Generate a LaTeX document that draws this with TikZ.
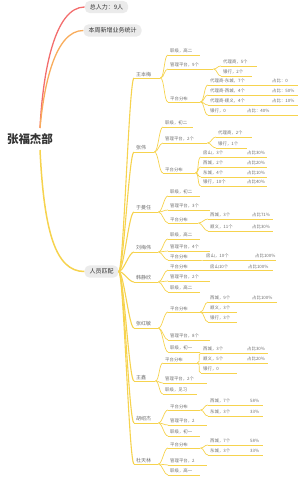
\documentclass[tikz,border=0pt]{standalone}
\usepackage{fontspec}
\newfontfamily\cjk{Noto Sans CJK SC}
\definecolor{ink}{HTML}{333333}
\definecolor{leafgray}{HTML}{6E6E6E}
\definecolor{pillgray}{HTML}{EBEBEB}
\definecolor{redline}{HTML}{F36D6D}
\definecolor{orangeline}{HTML}{F8AC5C}
\definecolor{goldline}{HTML}{F6D34E}
\tikzset{
  uline/.style={append after command={(\tikzlastnode.south west) edge[draw=goldline, line width=#1] (\tikzlastnode.south east)}},
  leaf/.style={font=\cjk\fontsize{4.4}{5}\selectfont, text=leafgray, anchor=south west,
    inner xsep=2pt, inner ysep=1.4pt, align=left, text width=#1pt, uline=0.7pt},
  who/.style={font=\cjk\fontsize{5}{6}\selectfont, text=leafgray, anchor=south west,
    inner xsep=2pt, inner ysep=1.4pt, align=left, text width=#1pt, uline=0.9pt},
  pill/.style={font=\cjk\fontsize{6}{7}\selectfont, text=ink, fill=pillgray,
    rounded corners=5pt, minimum height=11pt, inner xsep=5pt},
  branch/.style={draw=goldline, line width=0.7pt},
  trunk/.style={draw=goldline, line width=1.1pt}
}
\begin{document}
\begin{tikzpicture}[x=1pt, y=-1pt]
\useasboundingbox (0,0) rectangle (300,477);

% Root and first level
\node[font=\cjk\bfseries\fontsize{11.5}{12}\selectfont, text=ink] (root) at (30,139) {张福杰部};
\coordinate (rootup) at (40,128);
\coordinate (rootdn) at (40,150);
\node[pill] (total) at (106.5,7) {总人力：9人};
\node[pill] (weekly) at (112.5,30.5) {本周新增业务统计};
\node[pill] (staff) at (101.5,271.5) {人员匹配};

\draw[redline, line width=1.3pt] (rootup) .. controls (43,70) and (55,7) .. (total.west);
\draw[orangeline, line width=1.3pt] (rootup) .. controls (44,85) and (55,30.5) .. (weekly.west);
\draw[goldline, line width=1.5pt] (rootdn) .. controls (44,230) and (55,271.5) .. (staff.west);

% ============================================================
% Second level: people
% ============================================================
\node[who=22] (n1) at (134,78) {王本梅};
\node[who=16] (n2) at (134,152) {张伟};
\node[who=20] (n3) at (134,212) {于曼任};
\node[who=20] (n4) at (134,252) {刘梅伟};
\node[who=20] (n5) at (134,282) {韩静欣};
\node[who=20] (n6) at (134,328) {张红敏};
\node[who=17] (n7) at (134,381) {王鑫};
\node[who=20] (n8) at (134,423) {胡绍杰};
\node[who=20] (n9) at (134,464) {杜天林};

\foreach \n in {n1,n2,n3,n4,n5,n6,n7,n8,n9}
  \draw[trunk] (staff.east) .. controls +(5,0) and +(-5,0) .. (\n.south west);

% ============================================================
% Leaves
% ============================================================
% 王本梅
\node[leaf=28] (a1) at (168,55) {职级，高二};
\node[leaf=41] (a2) at (168,69) {管理平台，9个};
\node[leaf=32] (a21) at (221,66) {代理商，5个};
\node[leaf=27] (a22) at (221,76) {银行，2个};
\node[leaf=28] (a3) at (168,102) {平台分布};
\node[leaf=86] (a31) at (208,85) {\makebox[62pt][l]{代理商-东城，7个}占比：0};
\node[leaf=86] (a32) at (208,95) {\makebox[62pt][l]{代理商-西城，4个}占比：50\%};
\node[leaf=86] (a33) at (208,105) {\makebox[62pt][l]{代理商-顺义，4个}占比：10\%};
\node[leaf=86] (a34) at (208,115) {\makebox[37pt][l]{银行，0}占比：40\%};

% 张伟
\node[leaf=26] (b1) at (163,127) {职级，初二};
\node[leaf=40] (b2) at (163,143) {管理平台，2个};
\node[leaf=32] (b21) at (216,137) {代理商，2个};
\node[leaf=27] (b22) at (216,148) {银行，1个};
\node[leaf=28] (b3) at (163,173) {平台分布};
\node[leaf=62] (b31) at (201,157) {\makebox[44pt][l]{房山，3个}占比30\%};
\node[leaf=62] (b32) at (201,167) {\makebox[44pt][l]{西城，2个}占比20\%};
\node[leaf=62] (b33) at (201,177) {\makebox[44pt][l]{东城，4个}占比10\%};
\node[leaf=62] (b34) at (201,186) {\makebox[44pt][l]{银行，10个}占比40\%};

% 于曼任
\node[leaf=28] (c1) at (168,196) {职级，初二};
\node[leaf=38] (c2) at (168,210) {管理平台，3个};
\node[leaf=26] (c3) at (168,223) {平台分布};
\node[leaf=61] (c31) at (208,219) {\makebox[42pt][l]{西城，3个}占比71\%};
\node[leaf=61] (c32) at (208,231) {\makebox[42pt][l]{顺义，11个}占比30\%};

% 刘梅伟
\node[leaf=28] (d1) at (168,239) {职级，高二};
\node[leaf=38] (d2) at (168,251) {管理平台，4个};
\node[leaf=28] (d3) at (168,260) {平台分布};
\node[leaf=68] (d31) at (204,260) {\makebox[49pt][l]{房山，10个}占比100\%};

% 韩静欣
\node[leaf=28] (e1) at (168,270) {平台分布};
\node[leaf=61] (e11) at (208,270) {\makebox[38pt][l]{房山10个}占比100\%};
\node[leaf=38] (e2) at (168,281) {管理平台，2个};
\node[leaf=28] (e3) at (168,292) {职级，高二};

% 张红敏
\node[leaf=28] (f1) at (168,312) {平台分布};
\node[leaf=65] (f11) at (208,302) {\makebox[42pt][l]{西城，9个}占比100\%};
\node[leaf=25] (f12) at (208,312) {顺义，3个};
\node[leaf=25] (f13) at (208,322) {银行，3个};
\node[leaf=38] (f2) at (168,340) {管理平台，8个};
\node[leaf=28] (f3) at (168,352) {职级，初一};

% 王鑫
\node[leaf=30] (g1) at (163,363) {平台分布};
\node[leaf=63] (g11) at (201,353) {\makebox[44pt][l]{西城，3个}占比30\%};
\node[leaf=63] (g12) at (201,363) {\makebox[44pt][l]{顺义，5个}占比20\%};
\node[leaf=32] (g13) at (201,373) {银行，0};
\node[leaf=40] (g2) at (163,383) {管理平台，2个};
\node[leaf=30] (g3) at (163,394) {职级，见习};

% 胡绍杰
\node[leaf=28] (h1) at (168,410) {平台分布};
\node[leaf=51] (h11) at (208,405) {\makebox[40pt][l]{西城，7个}58\%};
\node[leaf=51] (h12) at (208,416) {\makebox[40pt][l]{东城，3个}33\%};
\node[leaf=35] (h2) at (168,425) {管理平台，2};
\node[leaf=28] (h3) at (168,436) {职级，初一};

% 杜天林
\node[leaf=28] (i1) at (168,448) {平台分布};
\node[leaf=51] (i11) at (208,445) {\makebox[40pt][l]{西城，7个}58\%};
\node[leaf=51] (i12) at (208,455) {\makebox[40pt][l]{东城，3个}33\%};
\node[leaf=35] (i2) at (168,465) {管理平台，2};
\node[leaf=28] (i3) at (168,475) {职级，高一};

% Connectors
\foreach \p/\c in {n1/a1,n1/a2,n1/a3,a2/a21,a2/a22,a3/a31,a3/a32,a3/a33,a3/a34,
    n2/b1,n2/b2,n2/b3,b2/b21,b2/b22,b3/b31,b3/b32,b3/b33,b3/b34,
    n3/c1,n3/c2,n3/c3,c3/c31,c3/c32,
    n4/d1,n4/d2,n4/d3,d3/d31,
    n5/e1,n5/e2,n5/e3,e1/e11,
    n6/f1,n6/f2,n6/f3,f1/f11,f1/f12,f1/f13,
    n7/g1,n7/g2,n7/g3,g1/g11,g1/g12,g1/g13,
    n8/h1,n8/h2,n8/h3,h1/h11,h1/h12,
    n9/i1,n9/i2,n9/i3,i1/i11,i1/i12}
  \draw[branch] (\p.south east) .. controls +(4,0) and +(-4,0) .. (\c.south west);

\end{tikzpicture}
\end{document}
